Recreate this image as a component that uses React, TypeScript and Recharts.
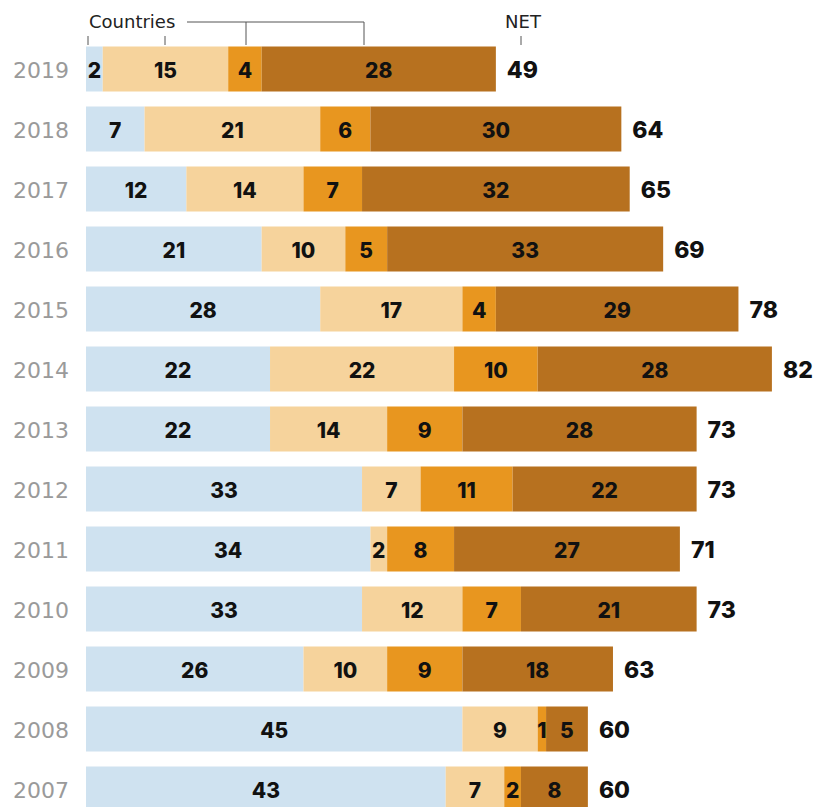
import { BarChart, Bar, XAxis, YAxis, LabelList } from 'recharts';

const years = ['2019', '2018', '2017', '2016', '2015', '2014', '2013', '2012', '2011', '2010', '2009', '2008', '2007'];
const seg1 = [2, 7, 12, 21, 28, 22, 22, 33, 34, 33, 26, 45, 43];
const seg2 = [15, 21, 14, 10, 17, 22, 14, 7, 2, 12, 10, 9, 7];
const seg3 = [4, 6, 7, 5, 4, 10, 9, 11, 8, 7, 9, 1, 2];
const seg4 = [28, 30, 32, 33, 29, 28, 28, 22, 27, 21, 18, 5, 8];
const net = [49, 64, 65, 69, 78, 82, 73, 73, 71, 73, 63, 60, 60];

const data = years.map((year, i) => ({
  year,
  s1: seg1[i],
  s2: seg2[i],
  s3: seg3[i],
  s4: seg4[i],
  net: net[i],
}));

const numFont = "Inter, 'DejaVu Sans', sans-serif";
const textFont = "'DejaVu Sans', sans-serif";

// label inside a segment, centred on it
function SegLabel(props: any) {
  const { x, y, width, height, value } = props;
  return (
    <text
      x={x + width / 2}
      y={y + height / 2}
      dy={8.5}
      textAnchor="middle"
      fill="#111"
      fontSize={21}
      fontWeight={800}
      fontFamily={numFont}
    >
      {value}
    </text>
  );
}

function NetLabel(props: any) {
  const { x, y, width, height, index } = props;
  return (
    <text
      x={x + width + 11}
      y={y + height / 2}
      dy={9}
      fill="#111"
      fontSize={23}
      fontWeight={800}
      fontFamily={numFont}
    >
      {net[index]}
    </text>
  );
}

export default function App() {
  return (
    <div
      style={{
        position: 'fixed',
        top: 0,
        left: 0,
        width: 820,
        height: 807,
        overflow: 'hidden',
        background: '#fff',
      }}
    >
      <BarChart
        width={820}
        height={830}
        data={data}
        layout="vertical"
        margin={{ top: 38.5, right: 23, left: 0, bottom: 11.5 }}
        barSize={45}
      >
        <XAxis type="number" domain={[0, 85]} hide />
        <YAxis
          dataKey="year"
          type="category"
          width={86}
          axisLine={false}
          tickLine={false}
          tickMargin={11}
          tick={{ fill: '#9a9a9a', fontSize: 22, fontFamily: textFont, dy: 2 }}
        />
        <Bar dataKey="s1" stackId="a" fill="#cfe2f0" isAnimationActive={false}>
          <LabelList dataKey="s1" content={SegLabel} />
        </Bar>
        <Bar dataKey="s2" stackId="a" fill="#f6d39c" isAnimationActive={false}>
          <LabelList dataKey="s2" content={SegLabel} />
        </Bar>
        <Bar dataKey="s3" stackId="a" fill="#e8961f" isAnimationActive={false}>
          <LabelList dataKey="s3" content={SegLabel} />
        </Bar>
        <Bar dataKey="s4" stackId="a" fill="#b7711f" isAnimationActive={false}>
          <LabelList dataKey="s4" content={SegLabel} />
          <LabelList dataKey="net" content={NetLabel} />
        </Bar>
      </BarChart>
      <svg
        width={820}
        height={46}
        style={{ position: 'absolute', top: 0, left: 0 }}
      >
        <text x={89} y={28} fontSize={18} fill="#222" fontFamily={textFont}>
          Countries
        </text>
        <line x1={88} y1={36} x2={88} y2={45} stroke="#555" />
        <line x1={165} y1={36} x2={165} y2={45} stroke="#555" />
        <line x1={187} y1={22} x2={364} y2={22} stroke="#555" />
        <line x1={246} y1={22} x2={246} y2={45} stroke="#555" />
        <line x1={364} y1={22} x2={364} y2={45} stroke="#555" />
        <text x={523} y={28} fontSize={18} fill="#222" fontFamily={textFont} textAnchor="middle">
          NET
        </text>
        <line x1={521} y1={36} x2={521} y2={45} stroke="#555" />
      </svg>
    </div>
  );
}
